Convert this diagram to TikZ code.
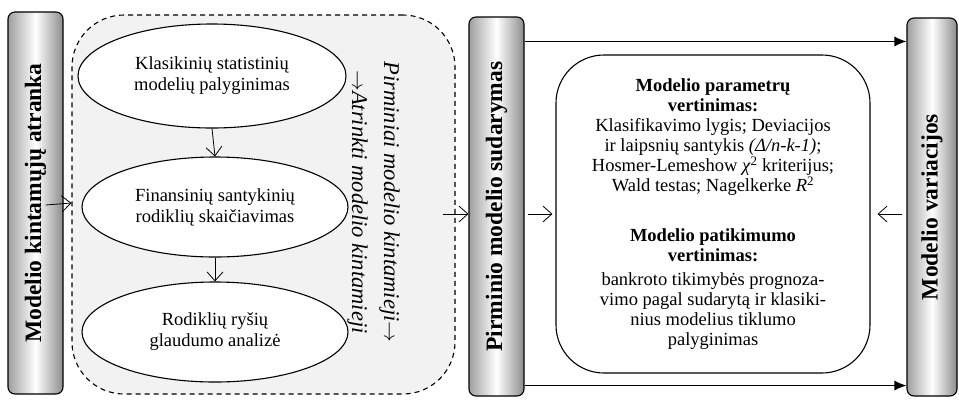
\documentclass[tikz,border=0pt]{standalone}
\usepackage{fontspec}
\setmainfont{Liberation Serif}
\usepackage{graphicx}
\usetikzlibrary{shapes.geometric,arrows.meta,calc}

\tikzset{
  bar/.style={draw, rounded corners=7pt, left color=gray!75, right color=gray!90,
    middle color=white, minimum width=55pt, line width=1.1pt,
    font=\fontsize{23.5}{26}\selectfont\bfseries},
  oval/.style={draw, ellipse, fill=white, minimum width=266pt, minimum height=100pt,
    line width=1.1pt, align=center, font=\fontsize{18.5}{21}\selectfont},
  flow/.style={-{Straight Barb[length=9pt,width=16pt]}, line width=0.8pt},
  feed/.style={-{Latex[length=12pt,width=10pt]}, line width=1.1pt}
}

\begin{document}
\begin{tikzpicture}[x=1pt,y=-1pt]
    \useasboundingbox (0,0) rectangle (959,400);
    % Bars
    \node[bar, minimum height=382pt] (atr) at (35.5,203) {\rotatebox{90}{Modelio kintamųjų atranka}};
    \node[bar, minimum height=379pt] (mid) at (496.5,206.5) {\rotatebox{90}{Pirminio modelio sudarymas}};
    \node[bar, minimum width=50pt, minimum height=378pt] (var) at (932,207) {\rotatebox{90}{Modelio variacijos}};
    % Dashed group with the three steps
    \node[draw, dash pattern=on 5pt off 4pt, line width=1.1pt, fill=gray!10, rounded corners=52pt,
          minimum width=383pt, minimum height=379pt] (grp) at (263.5,204.5) {};
    \node[oval, minimum width=268pt, minimum height=104pt] (e1) at (212,76) {Klasikinių statistinių\\modelių palyginimas};
    \node[oval] (e2) at (215,207) {Finansinių santykinių\\rodiklių skaičiavimas};
    \node[oval] (e3) at (215,332) {Rodiklių ryšių\\glaudumo analizė};
    \node[rotate=-90, align=center, font=\fontsize{22.5}{32}\selectfont\itshape] (lbl) at (373.5,202)
        {Pirminiai modelio kintamieji$\rightarrow$\\$\rightarrow$Atrinkti modelio kintamieji};
    % Evaluation box
    \node[draw, rounded corners=48pt, fill=white, line width=1.1pt, minimum width=314pt,
          minimum height=318pt, align=center, font=\fontsize{18.5}{20}\selectfont] (par) at (713,214)
        {\textbf{Modelio parametrų}\\
         \textbf{vertinimas:}\\
         Klasifikavimo lygis; Deviacijos\\
         ir laipsnių santykis \textit{(Δ/n-k-1)};\\
         Hosmer-Lemeshow \textit{χ}\textsuperscript{2} kriterijus;\\
         Wald testas; Nagelkerke \textit{R}\textsuperscript{2}\\[30pt]
         \textbf{Modelio patikimumo}\\
         \textbf{vertinimas:}\\[4pt]
         bankroto tikimybės prognoza-\\
         vimo pagal sudarytą ir klasiki-\\
         nius modelius tiklumo\\
         palyginimas};
    % Connectors
    \draw[flow] ($(atr.east)+(-18,2)$) -- (atr.east -| grp.west);
    \draw[flow] (e1.south) -- (e2.north);
    \draw[flow] (e2.south) -- (e3.north);
    \draw[flow] ($(grp.east |- par.west)+(-13,0)$) -- (mid.west |- par.west);
    \draw[flow] ($(mid.east |- par.west)+(3,0)$) -- ($(par.west)+(-3,0)$);
    \draw[flow] ($(var.west |- par.east)+(-4,0)$) -- ($(par.east)+(7,0)$);
    \coordinate (t1) at ($(mid.north east)+(0,25)$);
    \coordinate (b1) at ($(mid.south east)+(0,-11)$);
    \draw[feed] (t1) -- (t1 -| var.west);
    \draw[feed] (b1) -- (b1 -| var.west);
\end{tikzpicture}
\end{document}
